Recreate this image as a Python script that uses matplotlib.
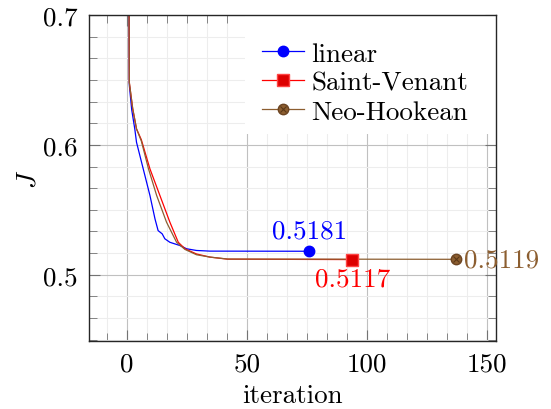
import numpy as np
import matplotlib
matplotlib.use("Agg")
import matplotlib.pyplot as plt
from matplotlib.ticker import MultipleLocator, AutoMinorLocator
from matplotlib.legend_handler import HandlerTuple
from matplotlib.patches import Rectangle

plt.rcParams['font.family'] = ['cmr10', 'DejaVu Serif']
plt.rcParams['mathtext.fontset'] = 'cm'
plt.rcParams['axes.formatter.use_mathtext'] = True
plt.rcParams['font.size'] = 19.5

# values
it_lin = [0, 1, 2, 3.3, 4, 6.8, 9.6, 11.7, 13, 14.7, 15.8, 17.9, 22.1, 24.9, 29, 34.6, 76]
J_lin = [1.2, 0.646, 0.627, 0.612, 0.602, 0.5815, 0.561, 0.543, 0.534, 0.5315, 0.5277,
         0.525, 0.5225, 0.520, 0.5187, 0.5182, 0.5181]

it_sv = [0, 1, 2.4, 4, 6, 9.6, 13.75, 17.9, 21.4, 24.2, 29, 34.6, 42, 94]
J_sv = [1.2, 0.648, 0.628, 0.6123, 0.604, 0.5815, 0.561, 0.5405, 0.525, 0.520, 0.516,
        0.5136, 0.5120, 0.5117]

it_nh = [0, 1, 2.4, 4, 6, 9.0, 12.4, 16.5, 20.7, 24.2, 29, 34.6, 42, 137]
J_nh = [1.2, 0.648, 0.628, 0.6123, 0.603, 0.5815, 0.561, 0.5405, 0.525, 0.5195, 0.5154,
        0.5136, 0.5121, 0.5119]

names = ['linear', 'Saint-Venant', 'Neo-Hookean']

blue = '#0000ff'
red = '#ff0000'
brown = '#8c5e30'

fig = plt.figure(figsize=(5.51, 4.10), dpi=100)
ax = fig.add_axes([89/551, 1-342/410, (496-89)/551, (342-16)/410])

l1, = ax.plot(it_lin, J_lin, color=blue, lw=0.9)
l2, = ax.plot(it_sv, J_sv, color=red, lw=0.9)
l3, = ax.plot(it_nh, J_nh, color=brown, lw=0.9)

m1, = ax.plot(it_lin[-1], J_lin[-1], 'o', color=blue, ms=7.5, zorder=5)
m2, = ax.plot(it_sv[-1], J_sv[-1], 's', color='#dd0000', mec='#ff4444', ms=8, zorder=5)
m3, = ax.plot(it_nh[-1], J_nh[-1], 'o', color=brown, mec='#6b4422', ms=7.5, zorder=5)
m3x, = ax.plot(it_nh[-1], J_nh[-1], 'x', color='#5a3818', ms=5, mew=0.8, zorder=6)

ax.annotate('0.5181', (it_lin[-1], J_lin[-1]), xytext=(0, 6), textcoords='offset points',
            ha='center', va='bottom', color=blue)
ax.annotate('0.5117', (it_sv[-1], J_sv[-1]), xytext=(0, -5), textcoords='offset points',
            ha='center', va='top', color=red)
ax.annotate('0.5119', (it_nh[-1], J_nh[-1]), xytext=(6, 0), textcoords='offset points',
            ha='left', va='center', color=brown, annotation_clip=False)

ax.set_xlim(-15.8, 153.8)
ax.set_ylim(0.449, 0.7)
ax.xaxis.set_major_locator(MultipleLocator(50))
ax.yaxis.set_major_locator(MultipleLocator(0.1))
ax.xaxis.set_minor_locator(AutoMinorLocator(6))
ax.yaxis.set_minor_locator(AutoMinorLocator(6))
ax.xaxis.set_major_formatter(plt.FuncFormatter(lambda v, p: '%g' % v))
ax.yaxis.set_major_formatter(plt.FuncFormatter(lambda v, p: '%g' % round(v, 2)))

ax.grid(which='major', color='#c0c0c0', lw=0.8)
ax.grid(which='minor', color='#ededed', lw=0.8)
ax.set_axisbelow(True)
ax.tick_params(which='both', direction='in', top=True, right=True, color='0.45')
ax.tick_params(which='major', length=8, width=0.8, pad=8)
ax.tick_params(which='minor', length=5.5, width=0.6)
for s in ax.spines.values():
    s.set_linewidth(1.0)
    s.set_color('0.15')

ax.set_xlabel('iteration', labelpad=5)
ax.set_ylabel('$J$')
ax.yaxis.set_label_coords((41 - 89) / 407, 0.5)

# white legend box reaching the right edge of the axes
ax.add_patch(Rectangle((0.383, 0.635), 0.617, 0.365, transform=ax.transAxes,
                       facecolor='white', edgecolor='none', zorder=1.5))

leg = ax.legend([(l1, m1), (l2, m2), (l3, m3, m3x)], names,
                handler_map={tuple: HandlerTuple(ndivide=1, pad=0)},
                loc='upper left', bbox_to_anchor=((262-89)/407, 1 - 27/326),
                borderaxespad=0, borderpad=0, frameon=False,
                handlelength=1.55, handletextpad=0.26, labelspacing=0.18)
leg.set_zorder(6)

fig.savefig('out.png', dpi=100)
